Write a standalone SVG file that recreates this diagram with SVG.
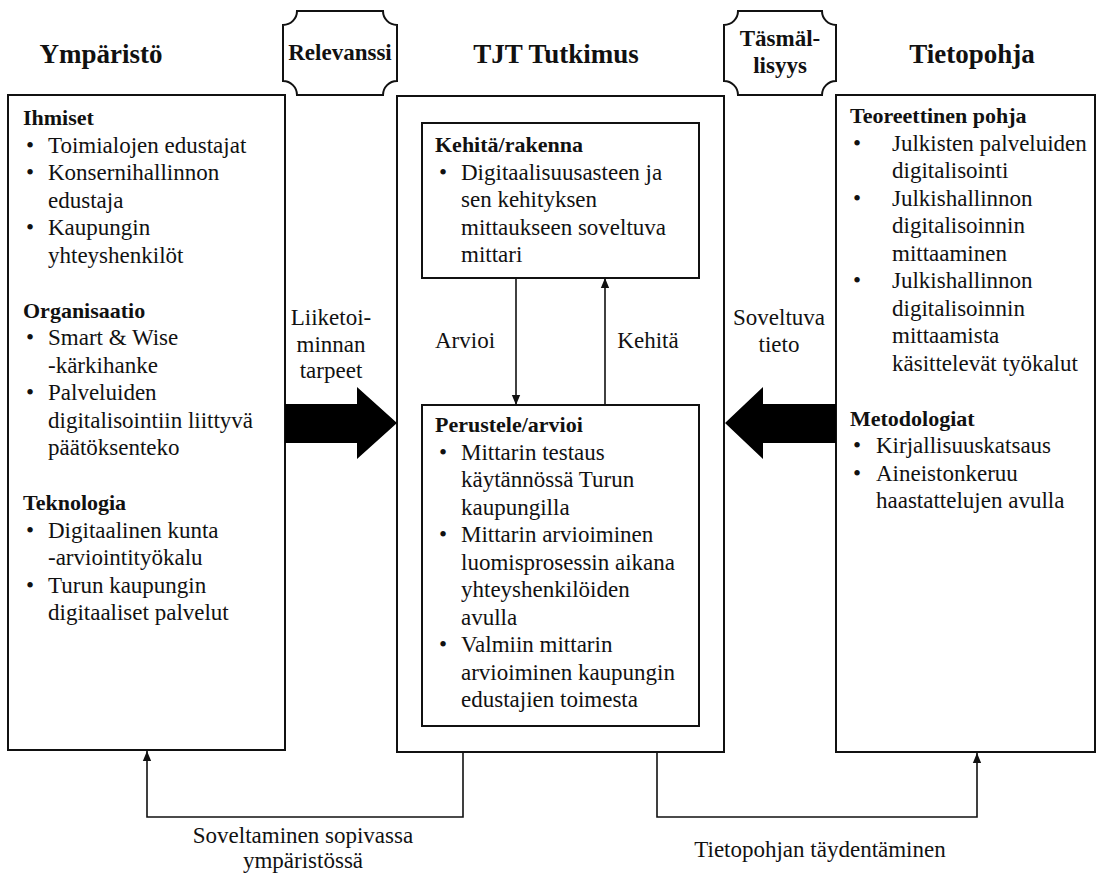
<svg xmlns="http://www.w3.org/2000/svg" width="1103" height="874" viewBox="0 0 1103 874">
  <defs>
    <marker id="tip" markerUnits="userSpaceOnUse" markerWidth="10" markerHeight="12" refX="12" refY="5" orient="auto" viewBox="0 0 12 10">
      <path d="M0,0 L12,5 L0,10 z" fill="#111"/>
    </marker>
    <style>
      text { font-family: "Liberation Serif", "Times New Roman", serif; fill: #111; font-size: 23px; }
      .title { font-size: 27px; font-weight: bold; text-anchor: middle; }
      .plaque-text { font-size: 23px; font-weight: bold; text-anchor: middle; }
      .head { font-weight: bold; font-size: 22px; }
      .mid { text-anchor: middle; }
      .box { fill: #fff; stroke: #111; stroke-width: 2; }
      .plaque { fill: #fff; stroke: #111; stroke-width: 2; }
      .line { fill: none; stroke: #111; stroke-width: 1.6; }
      .big { fill: #000; }
    </style>
  </defs>
  <rect width="1103" height="874" fill="#fff"/>

  <!-- column titles -->
  <g id="titles">
    <text class="title" x="101" y="63">Ympäristö</text>
    <text class="title" x="556" y="63">TJT Tutkimus</text>
    <text class="title" x="972" y="63">Tietopohja</text>
  </g>

  <!-- plaques between columns -->
  <g id="relevanssi">
    <path class="plaque" d="M297,11 L383,11 A14,14 0 0 0 397,25 L397,81 A14,14 0 0 0 383,95 L297,95 A14,14 0 0 0 283,81 L283,25 A14,14 0 0 0 297,11 Z"/>
    <text class="plaque-text" x="340" y="60">Relevanssi</text>
  </g>
  <g id="tasmallisyys">
    <path class="plaque" d="M738,11 L822,11 A14,14 0 0 0 836,25 L836,81 A14,14 0 0 0 822,95 L738,95 A14,14 0 0 0 724,81 L724,25 A14,14 0 0 0 738,11 Z"/>
    <text class="plaque-text" x="780" y="46">Täsmäl-</text>
    <text class="plaque-text" x="780" y="73">lisyys</text>
  </g>

  <!-- environment column -->
  <g id="ymparisto">
    <rect class="box" x="8" y="95" width="277" height="655"/>
    <text class="head" x="23" y="125">Ihmiset</text>
    <text x="26" y="152.5">•</text><text x="48" y="152.5">Toimialojen edustajat</text>
    <text x="26" y="180">•</text><text x="48" y="180">Konsernihallinnon</text>
    <text x="48" y="207.5">edustaja</text>
    <text x="26" y="235">•</text><text x="48" y="235">Kaupungin</text>
    <text x="48" y="262.5">yhteyshenkilöt</text>
    <text class="head" x="23" y="317.5">Organisaatio</text>
    <text x="26" y="345">•</text><text x="48" y="345">Smart &amp; Wise</text>
    <text x="48" y="372.5">-kärkihanke</text>
    <text x="26" y="400">•</text><text x="48" y="400">Palveluiden</text>
    <text x="48" y="427.5">digitalisointiin liittyvä</text>
    <text x="48" y="455">päätöksenteko</text>
    <text class="head" x="23" y="510">Teknologia</text>
    <text x="26" y="537.5">•</text><text x="48" y="537.5">Digitaalinen kunta</text>
    <text x="48" y="565">-arviointityökalu</text>
    <text x="26" y="592.5">•</text><text x="48" y="592.5">Turun kaupungin</text>
    <text x="48" y="620">digitaaliset palvelut</text>
  </g>

  <!-- research column -->
  <g id="tutkimus">
    <rect class="box" x="397" y="96" width="327" height="656"/>
  </g>
  <g id="kehita">
    <rect class="box" x="422" y="123" width="277" height="155"/>
    <text class="head" x="435" y="152">Kehitä/rakenna</text>
    <text x="439" y="179.5">•</text><text x="461" y="179.5">Digitaalisuusasteen ja</text>
    <text x="461" y="207">sen kehityksen</text>
    <text x="461" y="234.5">mittaukseen soveltuva</text>
    <text x="461" y="262">mittari</text>
  </g>
  <g id="perustele">
    <rect class="box" x="422" y="405" width="277" height="321"/>
    <text class="head" x="435" y="432">Perustele/arvioi</text>
    <text x="439" y="459.5">•</text><text x="461" y="459.5">Mittarin testaus</text>
    <text x="461" y="487">käytännössä Turun</text>
    <text x="461" y="514.5">kaupungilla</text>
    <text x="439" y="542">•</text><text x="461" y="542">Mittarin arvioiminen</text>
    <text x="461" y="569.5">luomisprosessin aikana</text>
    <text x="461" y="597">yhteyshenkilöiden</text>
    <text x="461" y="624.5">avulla</text>
    <text x="439" y="652">•</text><text x="461" y="652">Valmiin mittarin</text>
    <text x="461" y="679.5">arvioiminen kaupungin</text>
    <text x="461" y="707">edustajien toimesta</text>
  </g>

  <!-- knowledge base column -->
  <g id="tietopohja">
    <rect class="box" x="836" y="95" width="259" height="657"/>
    <text class="head" x="850" y="123">Teoreettinen pohja</text>
    <text x="853" y="150.5">•</text><text x="892" y="150.5">Julkisten palveluiden</text>
    <text x="892" y="178">digitalisointi</text>
    <text x="853" y="205.5">•</text><text x="892" y="205.5">Julkishallinnon</text>
    <text x="892" y="233">digitalisoinnin</text>
    <text x="892" y="260.5">mittaaminen</text>
    <text x="853" y="288">•</text><text x="892" y="288">Julkishallinnon</text>
    <text x="892" y="315.5">digitalisoinnin</text>
    <text x="892" y="343">mittaamista</text>
    <text x="892" y="370.5">käsittelevät työkalut</text>
    <text class="head" x="850" y="425.5">Metodologiat</text>
    <text x="853" y="453">•</text><text x="876" y="453">Kirjallisuuskatsaus</text>
    <text x="853" y="480.5">•</text><text x="876" y="480.5">Aineistonkeruu</text>
    <text x="876" y="508">haastattelujen avulla</text>
  </g>

  <!-- connectors -->
  <g id="connectors">
    <polygon class="big" points="285,404 357,404 357,387 397,423 357,459 357,443 285,443"/>
    <polygon class="big" points="836,404 763,404 763,387 725,423 763,459 763,443 836,443"/>
    <line class="line" x1="516" y1="278" x2="516" y2="405" marker-end="url(#tip)"/>
    <line class="line" x1="605" y1="405" x2="605" y2="278" marker-end="url(#tip)"/>
    <polyline class="line" points="463,752 463,817 147,817 147,751" marker-end="url(#tip)"/>
    <polyline class="line" points="657,752 657,817 977,817 977,753" marker-end="url(#tip)"/>
  </g>

  <!-- connector labels -->
  <g id="labels">
    <text class="mid" x="331" y="325">Liiketoi-</text>
    <text class="mid" x="331" y="352">minnan</text>
    <text class="mid" x="331" y="378">tarpeet</text>
    <text class="mid" x="779" y="325">Soveltuva</text>
    <text class="mid" x="779" y="352">tieto</text>
    <text class="mid" x="465" y="348">Arvioi</text>
    <text class="mid" x="648" y="348">Kehitä</text>
    <text class="mid" x="303" y="843">Soveltaminen sopivassa</text>
    <text class="mid" x="303" y="868">ympäristössä</text>
    <text class="mid" x="820" y="857">Tietopohjan täydentäminen</text>
  </g>
</svg>
